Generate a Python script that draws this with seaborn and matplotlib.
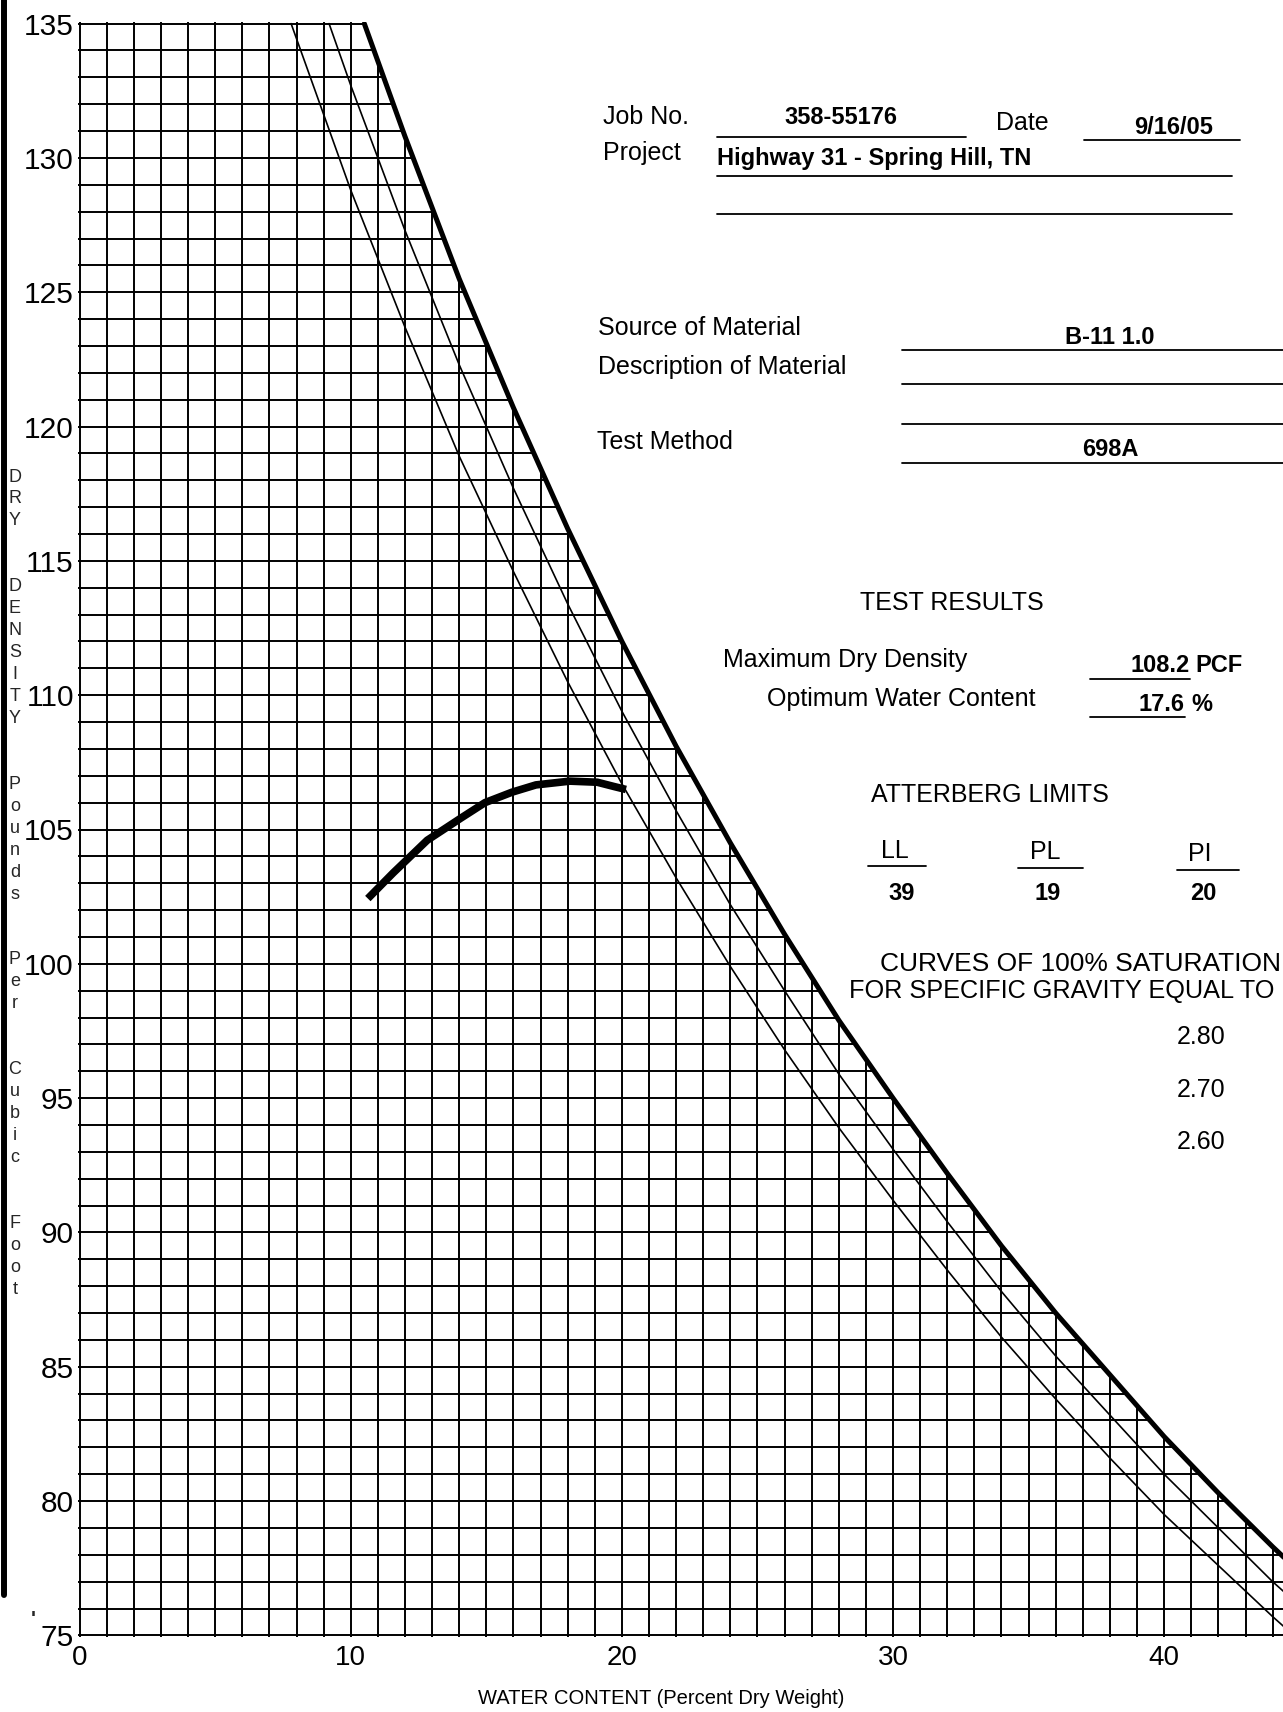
import numpy as np
import pandas as pd
import matplotlib
matplotlib.use("Agg")
import matplotlib.pyplot as plt
import seaborn as sns
from matplotlib.patches import Polygon
from matplotlib.lines import Line2D

# 100% saturation curves (water content %, dry density pcf)
w_280 = [10.5, 12, 14, 16, 18, 20, 22, 24, 26, 28, 30, 32, 34, 36, 38, 40, 42, 44, 46]
d_280 = [135.0, 130.8, 125.5, 120.7, 116.2, 112.0, 108.1, 104.5, 101.1, 97.9,
         95.0, 92.2, 89.5, 87.0, 84.7, 82.4, 80.3, 78.3, 76.4]

w_270 = [9.2, 10, 12, 14, 16, 18, 20, 22, 24, 26, 28, 30, 32, 34, 36, 38, 40, 42, 44, 46]
d_270 = [135.0, 132.7, 127.3, 122.3, 117.7, 113.4, 109.4, 105.7, 102.2, 99.0,
         95.9, 93.1, 90.4, 87.8, 85.4, 83.2, 81.0, 79.0, 77.0, 75.2]

w_260 = [7.8, 10, 12, 14, 16, 18, 20, 22, 24, 26, 28, 30, 32, 34, 36, 38, 40, 42, 44, 46]
d_260 = [135.0, 128.8, 123.7, 118.9, 114.6, 110.5, 106.7, 103.2, 99.9, 96.8,
         93.9, 91.2, 88.6, 86.1, 83.8, 81.6, 79.5, 77.6, 75.7, 73.9]

# Compaction (moisture-density) curve
w_comp = [10.63, 11.57, 12.82, 14.07, 14.95, 15.95, 16.83, 18.08, 19.09, 19.71, 20.15]
d_comp = [102.43, 103.39, 104.6, 105.43, 106.0, 106.39, 106.66, 106.8, 106.76, 106.6, 106.49]

x_ticks = [0, 10, 20, 30, 40]
y_ticks = [75, 80, 85, 90, 95, 100, 105, 110, 115, 120, 125, 130, 135]

y_title = "DRY DENSITY Pounds Per Cubic Foot"

W, H = 1283, 1712


def fx(px):
    return px / W


def fy(py):
    return 1 - py / H


sns.set_style("white")
plt.rcParams["font.family"] = ["Liberation Sans", "DejaVu Sans"]

fig = plt.figure(figsize=(W / 100, H / 100), dpi=100)
ax_left, ax_top, ax_bottom = 78, 22, 1637
ax = fig.add_axes([fx(ax_left), fy(ax_bottom), 1 - fx(ax_left), fy(ax_top) - fy(ax_bottom)])
x_max = (W - ax_left) / 27.15

# region under the 2.80 saturation line holds the grid
verts = [(-1, 74), (-1, 136), (10.1, 136)] + list(zip(w_280, d_280)) + [(47, 74)]
region = Polygon(verts, closed=True, transform=ax.transData, facecolor="none", edgecolor="none")

grid_kw = dict(color="black", lw=1.4, zorder=1)
hl = ax.hlines(np.arange(75, 136), -0.1, 47, **grid_kw)
vl = ax.vlines(np.arange(0, 45), 74.9, 135.1, **grid_kw)
ax.set_xlim(-0.06, x_max)
ax.set_ylim(74.94, 135.06)
for coll in (hl, vl):
    coll.set_clip_path(region)

sns.lineplot(x=w_260, y=d_260, ax=ax, color="black", lw=1.2, sort=False, estimator=None, zorder=3)
sns.lineplot(x=w_270, y=d_270, ax=ax, color="black", lw=1.2, sort=False, estimator=None, zorder=3)
sns.lineplot(x=w_280, y=d_280, ax=ax, color="black", lw=3.6, sort=False, estimator=None, zorder=4)
sns.lineplot(x=w_comp, y=d_comp, ax=ax, color="black", lw=5.5, sort=False, estimator=None,
             zorder=5, solid_capstyle="butt", solid_joinstyle="round")

for s in ax.spines.values():
    s.set_visible(False)
ax.set_xticks(x_ticks)
ax.set_yticks(y_ticks)
ax.tick_params(length=0, colors="black")
ax.tick_params(axis="x", pad=6, labelsize=20)
ax.tick_params(axis="y", pad=3, labelsize=21.5)
ax.set_xlabel("WATER CONTENT (Percent Dry Weight)", fontsize=14.5, color="black")
ax_w = W - ax_left
ax.xaxis.set_label_coords((661 - ax_left) / ax_w, (ax_bottom - 1699) / (ax_bottom - ax_top))
ax.xaxis.label.set_va("center")
ax.set_ylabel("")

# stacked vertical axis title
row = 0
for ch in y_title:
    if ch != " ":
        fig.text(fx(15), fy(477 + row * 21.95), ch, ha="center", va="center",
                 fontsize=13, zorder=5)
    else:
        row += 1
    row += 1

# left binding edge
fig.add_artist(Line2D([fx(4), fx(4)], [fy(0), fy(1595)], color="black", lw=4.3,
                      transform=fig.transFigure, zorder=1))
fig.text(fx(33), fy(1620), "'", ha="center", va="center", fontsize=15, fontweight="bold")


def label(x, y, s, size=18, bold=False, ha="left"):
    fig.text(fx(x), fy(y), s, ha=ha, va="center", fontsize=size,
             fontweight="bold" if bold else "normal", color="black")


def rule(x0, x1, y, lw=1.3):
    fig.add_artist(Line2D([fx(x0), fx(x1)], [fy(y), fy(y)], color="black", lw=lw,
                          transform=fig.transFigure))


# header block
label(603, 117, "Job No.")
label(841, 118, "358-55176", 17, True, "center")
rule(717, 966, 137)
label(996, 123, "Date")
label(1174, 128, "9/16/05", 17, True, "center")
rule(1084, 1240, 140)
label(603, 153, "Project")
label(717, 159, "Highway 31 - Spring Hill, TN", 17, True)
rule(717, 1232, 176)
rule(717, 1232, 214)

label(598, 328, "Source of Material")
label(1110, 337, "B-11 1.0", 17, True, "center")
rule(902, 1283, 350)
label(598, 367, "Description of Material")
rule(902, 1283, 384)
rule(902, 1283, 424)
label(597, 442, "Test Method")
label(1110, 450, "698A", 17, True, "center")
rule(902, 1283, 463)

# test results
label(952, 603, "TEST RESULTS", 18, False, "center")
label(723, 660, "Maximum Dry Density")
label(1190, 665, "108.2", 17, True, "right")
label(1195, 665, "PCF", 17, True)
rule(1090, 1190, 679)
label(767, 699, "Optimum Water Content")
label(1185, 704, "17.6", 17, True, "right")
label(1191, 704, "%", 17, True)
rule(1090, 1185, 717)

label(871, 795, "ATTERBERG LIMITS")
label(895, 851, "LL", 18, False, "center")
rule(868, 926, 866)
label(1045, 852, "PL", 18, False, "center")
rule(1018, 1083, 868)
label(1200, 854, "PI", 18, False, "center")
rule(1177, 1239, 870)
label(902, 893, "39", 17, True, "center")
label(1048, 893, "19", 17, True, "center")
label(1203, 893, "20", 17, True, "center")

label(880, 964, "CURVES OF 100% SATURATION", 19)
label(849, 991, "FOR SPECIFIC GRAVITY EQUAL TO", 18.2)
label(1177, 1037, "2.80")
label(1177, 1090, "2.70")
label(1177, 1142, "2.60")

fig.savefig("out.png", dpi=100, facecolor="white")
